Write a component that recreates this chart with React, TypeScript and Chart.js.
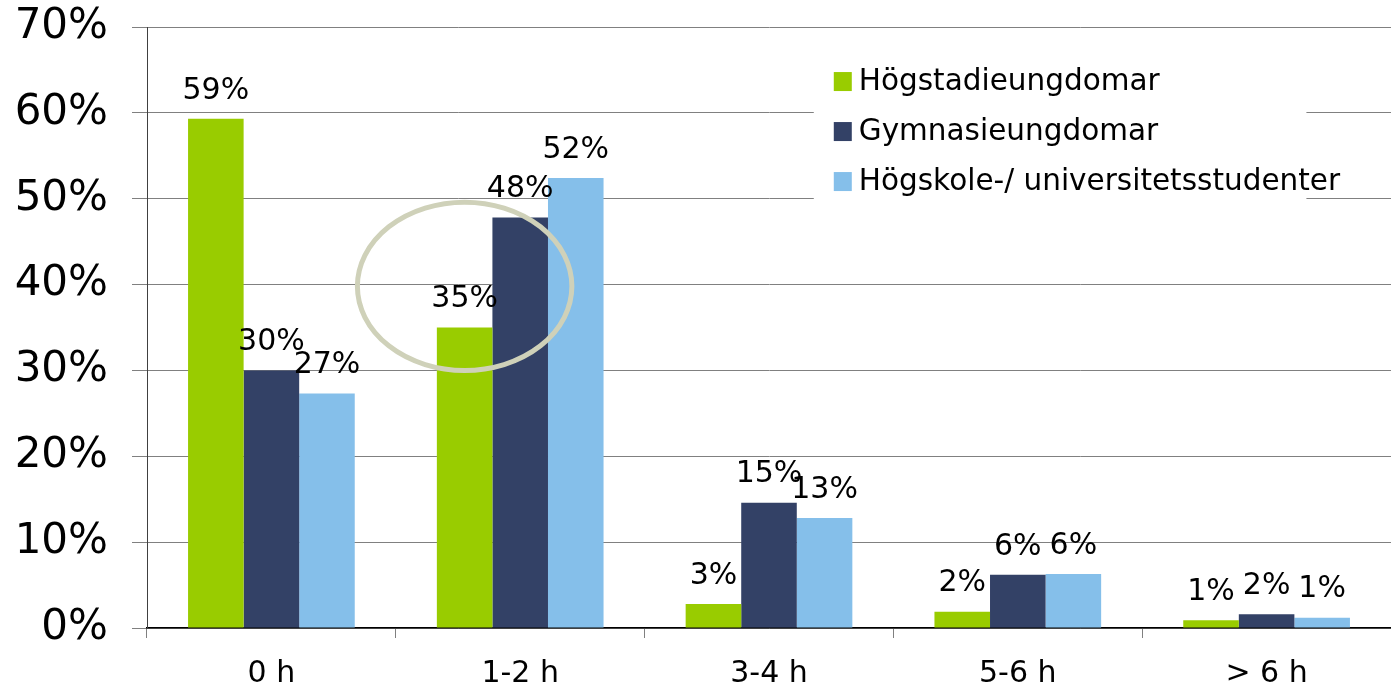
import React, { useEffect, useRef } from "react";
import Chart from "chart.js/auto";

const categories = ["0 h", "1-2 h", "3-4 h", "5-6 h", "> 6 h"];
const seriesNames = ["Högstadieungdomar", "Gymnasieungdomar", "Högskole-/ universitetsstudenter"];
const hogstadie = [59.3, 35.0, 2.8, 1.9, 0.9];
const gymnasie = [30.0, 47.8, 14.6, 6.2, 1.6];
const hogskola = [27.3, 52.4, 12.8, 6.3, 1.2];
const seriesColors = ["#99CC00", "#334166", "#85BFEA"];
const yTicks = [0, 10, 20, 30, 40, 50, 60, 70];

// annotation: ellipse around the 1-2 h first bar
const ellipseCategory = 1;
const ellipseDataset = 0;
const ellipseYLow = 30.0;
const ellipseYHigh = 49.6;
const ellipseRxBars = 1.93;

const FONT = "'DejaVu Sans', Verdana, sans-serif";

export default function App() {
  const ref = useRef<HTMLCanvasElement | null>(null);
  useEffect(() => {
    const canvas = ref.current!;
    const series = [hogstadie, gymnasie, hogskola];

    const overlay = {
      id: "overlay",
      afterDatasetsDraw(chart: any) {
        const ctx = chart.ctx;
        const y = chart.scales.y;
        // ellipse
        const meta0 = chart.getDatasetMeta(ellipseDataset);
        const el = meta0.data[ellipseCategory];
        const bw = el.width;
        const cx = el.x;
        const yTop = y.getPixelForValue(ellipseYHigh);
        const yBot = y.getPixelForValue(ellipseYLow);
        ctx.save();
        ctx.strokeStyle = "#CFD1B9";
        ctx.lineWidth = 5;
        ctx.beginPath();
        ctx.ellipse(cx, (yTop + yBot) / 2, bw * ellipseRxBars, (yBot - yTop) / 2, 0, 0, Math.PI * 2);
        ctx.stroke();
        ctx.restore();

        // value labels
        ctx.save();
        ctx.font = `30px ${FONT}`;
        ctx.fillStyle = "#000";
        ctx.textAlign = "center";
        ctx.textBaseline = "bottom";
        chart.data.datasets.forEach((ds: any, di: number) => {
          const meta = chart.getDatasetMeta(di);
          meta.data.forEach((b: any, i: number) => {
            ctx.fillText(Math.round(ds.data[i]) + "%", b.x, b.y - 13);
          });
        });
        ctx.restore();
      },
      afterDraw(chart: any) {
        const ctx = chart.ctx;
        const y = chart.scales.y;
        const area = chart.chartArea;
        // legend box
        const left = area.left + (area.right - area.left) * 0.536;
        const boxRight = area.left + (area.right - area.left) * 0.932;
        const top = y.getPixelForValue(66.5);
        const bottom = y.getPixelForValue(49);
        ctx.save();
        ctx.fillStyle = "#fff";
        ctx.fillRect(left, top, boxRight - left, bottom - top);
        ctx.font = `29.5px ${FONT}`;
        ctx.textBaseline = "middle";
        ctx.textAlign = "left";
        seriesNames.forEach((name, i) => {
          const cy = top + 24 + i * 50;
          ctx.fillStyle = seriesColors[i];
          ctx.fillRect(left + 20, cy - 9, 18, 19);
          ctx.fillStyle = "#000";
          ctx.fillText(name, left + 45, cy + 1);
        });
        ctx.restore();
      },
    };

    const chart = new Chart(canvas, {
      type: "bar",
      data: {
        labels: categories,
        datasets: series.map((d, i) => ({
          label: seriesNames[i],
          data: d,
          backgroundColor: seriesColors[i],
          borderWidth: 0,
          categoryPercentage: 0.67,
          barPercentage: 1.0,
        })),
      },
      options: {
        responsive: false,
        animation: false,
        layout: { padding: { top: 27, right: 0, left: 0, bottom: 0 } },
        plugins: { legend: { display: false }, tooltip: { enabled: false } },
        scales: {
          x: {
            grid: { drawOnChartArea: false, drawTicks: true, tickLength: 10, offset: true, color: "#808080" },
            border: { color: "#000", width: 1.5 },
            ticks: { color: "#000", font: { family: FONT, size: 30 }, padding: 18 },
            afterFit: (s: any) => { s.height = 60; s.paddingLeft = 0; s.paddingRight = 0; },
          },
          y: {
            min: 0,
            max: 70,
            afterBuildTicks: (s: any) => { s.ticks = yTicks.map((v) => ({ value: v })); },
            grid: { color: "#808080", tickLength: 15, lineWidth: 1 },
            border: { color: "#404040", width: 1 },
            ticks: {
              color: "#000",
              font: { family: FONT, size: 42 },
              padding: 24,
              callback: (v: any) => v + "%",
            },
            afterFit: (s: any) => { s.width = 147; s.paddingTop = 0; s.paddingBottom = 0; },
          },
        },
      },
      plugins: [overlay],
    });
    return () => chart.destroy();
  }, []);
  return (
    <canvas
      ref={ref}
      width={1391}
      height={688}
      style={{ position: "absolute", left: 0, top: 0, width: 1391, height: 688 }}
    />
  );
}
